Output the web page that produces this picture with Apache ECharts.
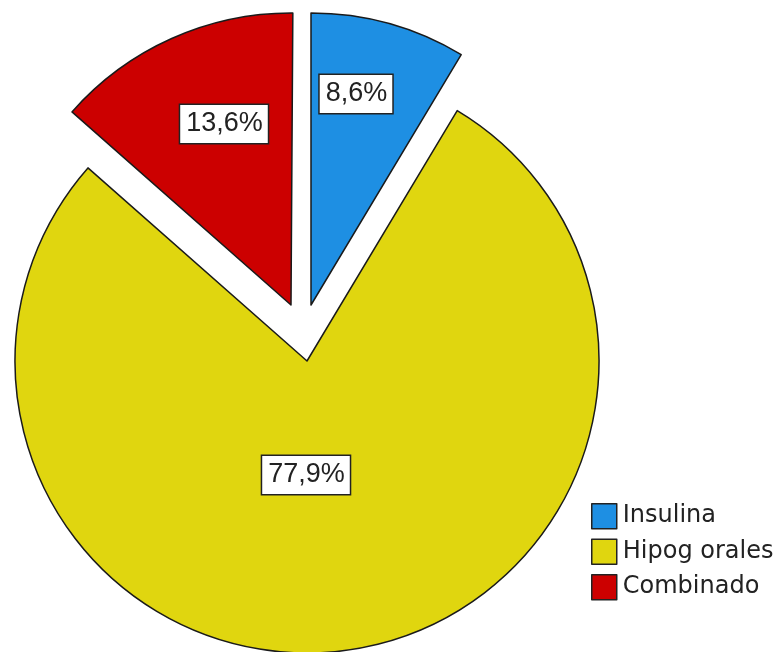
<!DOCTYPE html>
<html>
<head>
<meta charset="utf-8">
<script src="https://cdn.jsdelivr.net/npm/echarts@6/dist/echarts.min.js"></script>
<style>
  html, body { margin: 0; padding: 0; background: #fff; }
  #chart { width: 777px; height: 652px; }
</style>
</head>
<body>
<div id="chart"></div>
<script>
var categories = ['Insulina', 'Hipog orales', 'Combinado'];
var percents = [8.6, 77.9, 13.6];
var colors = ['#1e8fe3', '#e0d60f', '#cc0000'];

// each slice gets its own pie so the two exploded ones can sit apart
var centers = [[311, 305], [307, 361], [291, 305]];
var labelSpots = [[356, 94], [306, 475], [224, 124]];

var chart = echarts.init(document.getElementById('chart'));

function fmt(v) {
    return v.toFixed(1).replace('.', ',') + '%';
}

var series = [];
var before = 0;
categories.forEach(function(name, i) {
    var v = percents[i];
    series.push({
        type: 'pie',
        silent: true,
        radius: 292,
        center: centers[i],
        startAngle: 90 - before * 3.6,
        clockwise: true,
        animation: false,
        labelLine: { show: false },
        labelLayout: { x: labelSpots[i][0], y: labelSpots[i][1] },
        label: {
            show: true,
            position: 'inside',
            formatter: function(p) { return fmt(p.value); },
            fontFamily: 'Liberation Sans, Arial, sans-serif',
            fontSize: 27,
            lineHeight: 28,
            color: '#222',
            backgroundColor: '#fff',
            borderColor: '#222',
            borderWidth: 1.5,
            padding: [6, 5, 4, 6]
        },
        data: [
            {
                name: name,
                value: v,
                itemStyle: { color: colors[i], borderColor: '#1a1a1a', borderWidth: 1.5 }
            },
            {
                name: '_resto' + i,
                value: 100 - v,
                label: { show: false },
                itemStyle: { color: 'rgba(0,0,0,0)', borderWidth: 0 }
            }
        ]
    });
    before += v;
});

var option = {
    backgroundColor: '#fff',
    legend: {
        data: categories,
        orient: 'vertical',
        left: 591,
        top: 503,
        padding: 0,
        itemWidth: 25,
        itemHeight: 25,
        itemGap: 9,
        icon: 'rect',
        selectedMode: false,
        itemStyle: { borderColor: '#222', borderWidth: 1.5 },
        textStyle: {
            fontFamily: 'DejaVu Sans, sans-serif',
            fontSize: 24,
            color: '#222',
            padding: [0, 0, 0, 1]
        }
    },
    series: series
};

chart.setOption(option);
</script>
</body>
</html>
